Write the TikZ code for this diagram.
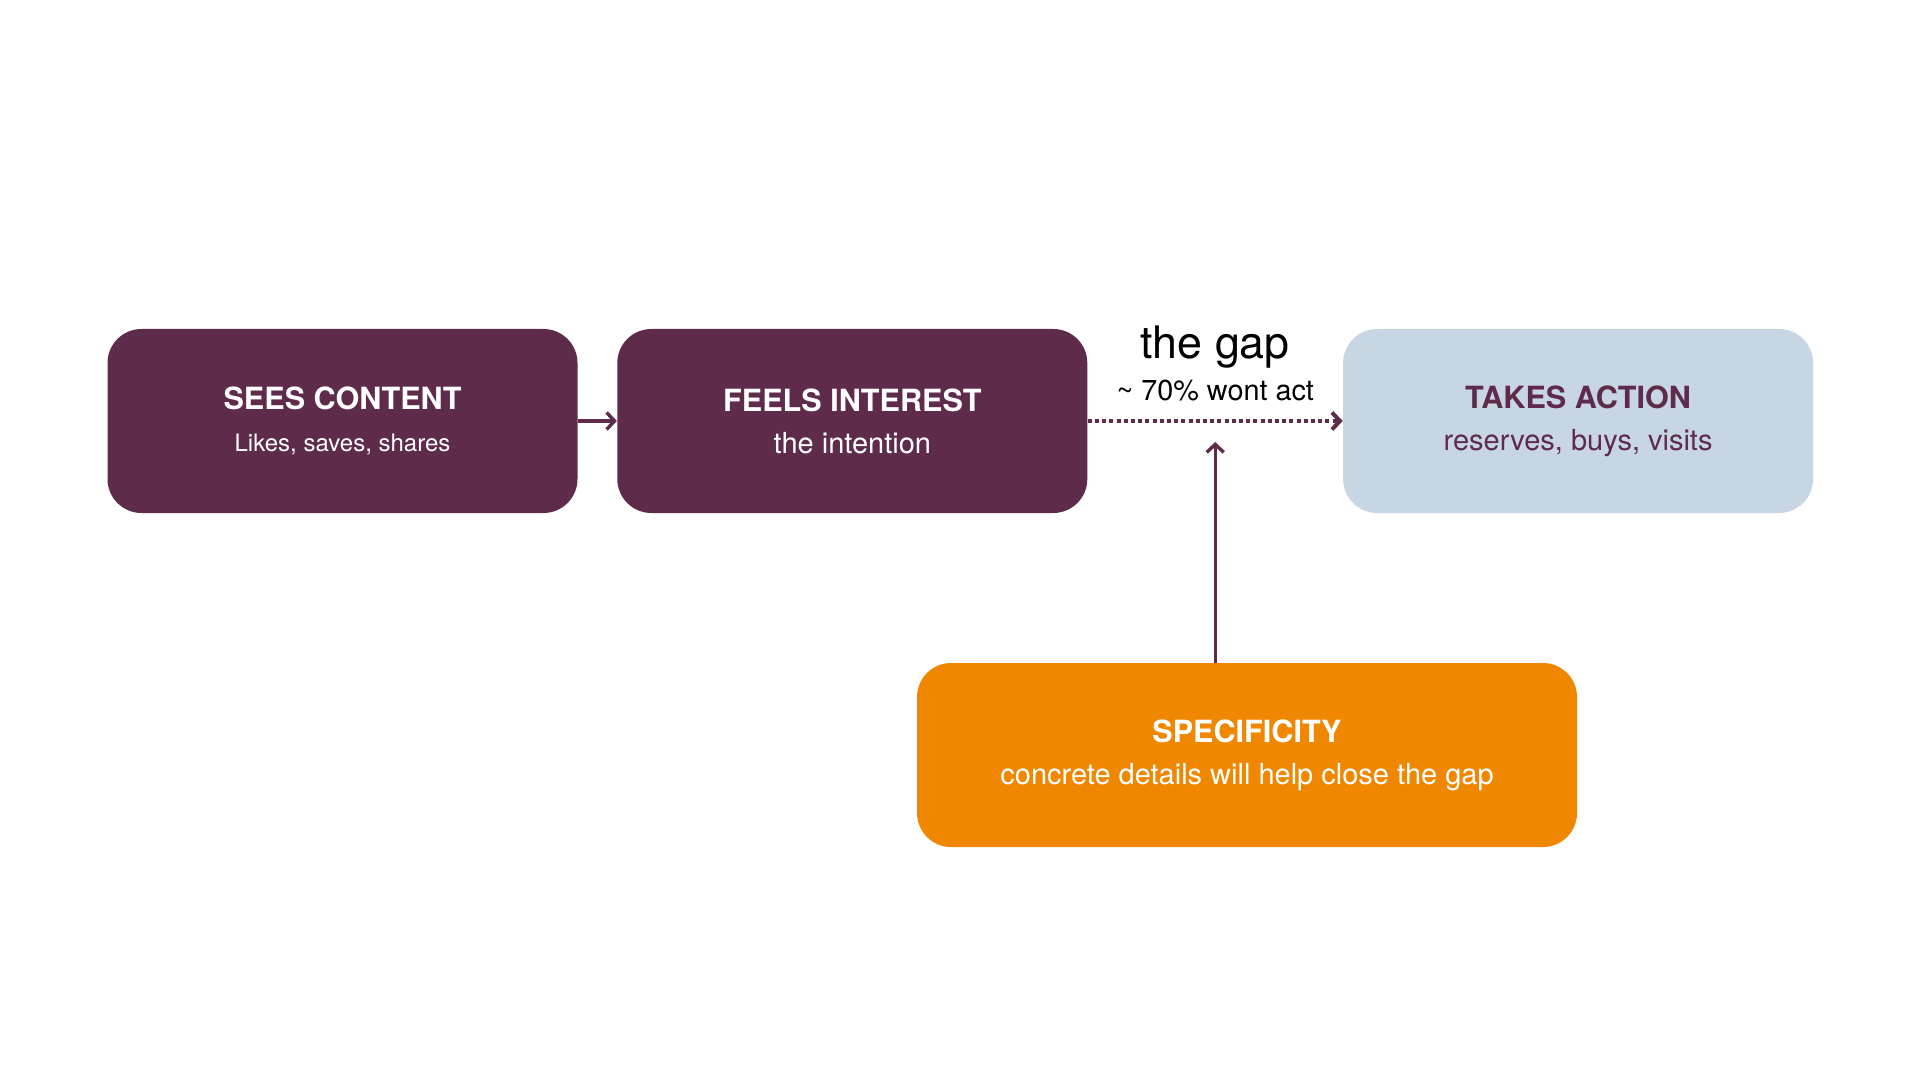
\documentclass[tikz,border=0pt]{standalone}
\usepackage{fontspec}
\setmainfont{TeX Gyre Heros}
\usepackage{xcolor}
\usetikzlibrary{arrows.meta, positioning}

\definecolor{plum}{HTML}{5E2C4A}
\definecolor{mist}{HTML}{C8D6E3}
\definecolor{amber}{HTML}{F08700}

\newcommand{\stagehead}[1]{{\fontsize{15.3pt}{21pt}\selectfont\bfseries #1}}
\newcommand{\stagenote}[1]{{\fontsize{14.5pt}{21pt}\selectfont #1}}

\begin{document}
\begin{tikzpicture}[
  box/.style={rounded corners=17pt, minimum height=92pt, minimum width=235pt, align=center, inner sep=0pt,
    font=\fontsize{14.5pt}{21pt}\selectfont},
  stage/.style={box, fill=plum, text=white},
  goal/.style={box, fill=mist, text=plum},
  lever/.style={box, fill=amber, text=white, minimum width=330pt},
  arr/.style={draw=plum, line width=1.7pt, -{Straight Barb[length=4pt, width=8.5pt]}},
  dotarr/.style={arr, line width=2pt, dash pattern=on 2pt off 1.6pt}
]
\useasboundingbox (0,0) rectangle (960pt,-540pt);

\node[stage] (sees) at (171.25pt,-210.5pt) {\stagehead{SEES CONTENT}\\{\fontsize{12pt}{21pt}\selectfont Likes, saves, shares}};
\node[stage, right=19.5pt of sees] (feels) {\stagehead{FEELS INTEREST}\\\stagenote{the intention}};
\node[goal, right=127.5pt of feels] (takes) {\stagehead{TAKES ACTION}\\\stagenote{reserves, buys, visits}};
\node[lever] (spec) at (623.5pt,-377.5pt) {\stagehead{SPECIFICITY}\\\stagenote{concrete details will help close the gap}};

\path (feels.east) -- (takes.west) coordinate[midway] (gapmid);
\coordinate[below=10.5pt of gapmid] (gaptip);
\node[above=10pt of gapmid, align=center, inner sep=0pt, font=\fontsize{14.4pt}{21pt}\selectfont] (gaplbl)
  {{\fontsize{22.4pt}{21pt}\selectfont the gap}\\\textasciitilde{} 70\% wont act};

\draw[arr] (sees) -- (feels);
\draw[dotarr] (feels.east) -- (takes.west);
\draw[arr] (spec.north -| gapmid) -- (gaptip);
\end{tikzpicture}
\end{document}
